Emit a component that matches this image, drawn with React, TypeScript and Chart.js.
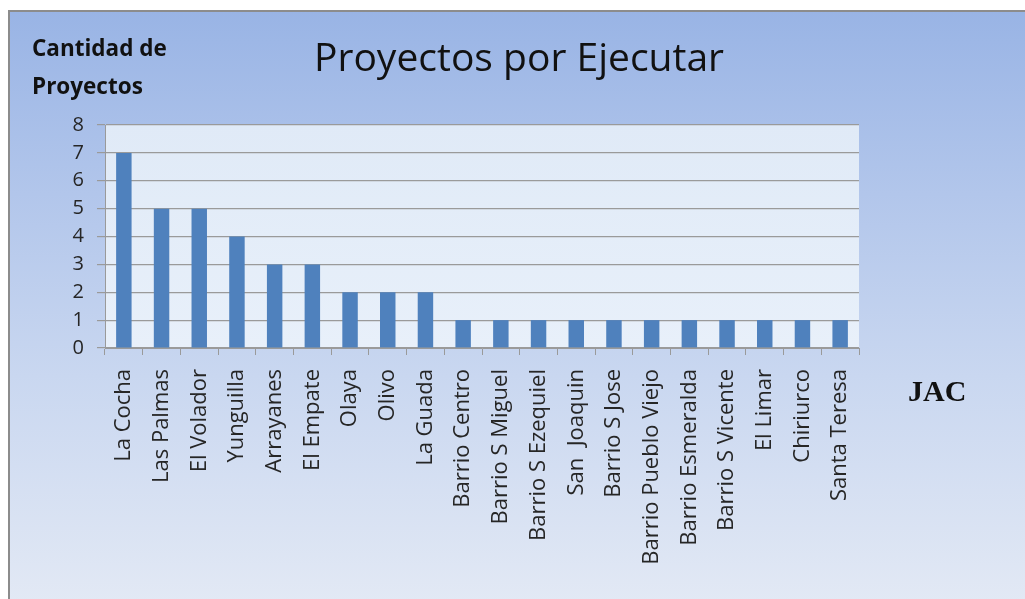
import React, { useEffect, useRef } from "react";
import { Chart, registerables } from "chart.js";

Chart.register(...registerables);

const categories = [
  "La Cocha",
  "Las Palmas",
  "El Volador",
  "Yunguilla",
  "Arrayanes",
  "El Empate",
  "Olaya",
  "Olivo",
  "La Guada",
  "Barrio Centro",
  "Barrio S Miguel",
  "Barrio S Ezequiel",
  "San  Joaquin",
  "Barrio S Jose",
  "Barrio Pueblo Viejo",
  "Barrio Esmeralda",
  "Barrio S Vicente",
  "El Limar",
  "Chiriurco",
  "Santa Teresa",
];

const proyectos = [7, 5, 5, 4, 3, 3, 2, 2, 2, 1, 1, 1, 1, 1, 1, 1, 1, 1, 1, 1];

const yTicks = [0, 1, 2, 3, 4, 5, 6, 7, 8];

const titleText = "Proyectos por Ejecutar";
const yTitleLines = ["Cantidad de", "Proyectos"];
const xTitleText = "JAC";

const textPlugin = {
  id: "customText",
  beforeDraw(chart: any) {
    const { ctx, chartArea } = chart;
    ctx.save();
    const g = ctx.createLinearGradient(0, chartArea.top, 0, chartArea.bottom);
    g.addColorStop(0, "#e0eaf7");
    g.addColorStop(1, "#e8f0fa");
    ctx.fillStyle = g;
    ctx.fillRect(chartArea.left, chartArea.top, chartArea.right - chartArea.left, chartArea.bottom - chartArea.top);
    ctx.restore();
  },
  afterDraw(chart: any) {
    const { ctx } = chart;
    ctx.save();
    ctx.fillStyle = "#111111";
    ctx.textBaseline = "middle";
    ctx.textAlign = "center";
    ctx.font = "39px 'Open Sans'";
    ctx.fillText(titleText, 519, 60);
    ctx.textAlign = "left";
    ctx.font = "bold 22.5px 'Open Sans'";
    ctx.fillText(yTitleLines[0], 32, 50);
    ctx.fillText(yTitleLines[1], 32, 88);
    ctx.font = "bold 30px 'Liberation Serif'";
    ctx.fillText(xTitleText, 908, 393);
    ctx.restore();
  },
};

export default function App() {
  const ref = useRef<HTMLCanvasElement | null>(null);

  useEffect(() => {
    if (!ref.current) return;
    const chart = new Chart(ref.current, {
      type: "bar",
      data: {
        labels: categories,
        datasets: [
          {
            label: "Proyectos",
            data: proyectos,
            backgroundColor: "#4f81bd",
            borderWidth: 0,
            barPercentage: 0.41,
            categoryPercentage: 1,
          },
        ],
      },
      options: {
        responsive: false,
        animation: false,
        maintainAspectRatio: false,
        layout: { padding: { left: 0, top: 125, right: 166, bottom: 0 } },
        plugins: {
          legend: { display: false },
          tooltip: { enabled: false },
          title: { display: false },
        },
        scales: {
          x: {
            afterFit: (scale: any) => {
              scale.height = 251;
            },
            grid: {
              offset: true,
              drawOnChartArea: false,
              drawTicks: true,
              tickLength: 7,
              color: "#9a9a9a",
            },
            border: { color: "#9a9a9a", width: 1 },
            ticks: {
              autoSkip: false,
              minRotation: 90,
              maxRotation: 90,
              padding: 14,
              color: "#262626",
              font: { family: "'Open Sans'", size: 22 },
            },
          },
          y: {
            min: 0,
            max: 8,
            afterFit: (scale: any) => {
              scale.width = 105;
            },
            afterBuildTicks: (scale: any) => {
              scale.ticks = yTicks.map((v) => ({ value: v }));
            },
            grid: {
              drawTicks: true,
              tickLength: 8,
              color: "#9a9a9a",
              lineWidth: 1.2,
            },
            border: { color: "#9a9a9a", width: 1 },
            ticks: {
              stepSize: 1,
              padding: 13,
              color: "#262626",
              font: { family: "'Open Sans'", size: 20 },
            },
          },
        },
      },
      plugins: [textPlugin],
    });
    return () => chart.destroy();
  }, []);

  return (
    <div
      style={{
        position: "fixed",
        left: 0,
        top: 0,
        width: 1025,
        height: 599,
        overflow: "hidden",
      }}
    >
      <div
        style={{
          position: "absolute",
          left: 8,
          top: 10,
          width: 1040,
          height: 610,
          boxSizing: "border-box",
          border: "2px solid #8c8c8c",
          background: "linear-gradient(to bottom, #99b4e5 0%, #b2c6eb 30%, #c9d7f0 60%, #e4eaf5 100%)",
        }}
      />
      <canvas
        ref={ref}
        width={1025}
        height={599}
        style={{ position: "absolute", left: 0, top: 0, width: 1025, height: 599 }}
      />
    </div>
  );
}
